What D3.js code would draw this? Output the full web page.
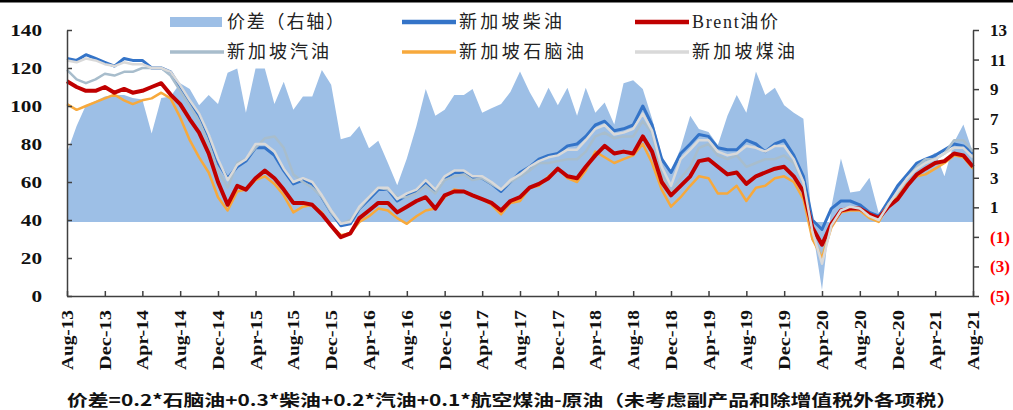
<!DOCTYPE html>
<html>
<head>
<meta charset="utf-8">
<script src="https://cdn.jsdelivr.net/npm/d3@7"></script>
<style>
  body { margin: 0; background: #fff; }
  svg { display: block; }
</style>
</head>
<body>
<div id="chart"></div>
<script>
// monthly readings, Aug-13 .. Aug-21
let startMonth = new Date(2013, 7, 1);
let months = d3.range(97).map(i => d3.timeMonth.offset(startMonth, i));
let tickMonths = d3.range(0, 97, 4).map(i => months[i]);

let spread = [
  4.7, 6.5, 7.9, 8.2, 8.5, 8.6, 8.6, 8.4, 8.3, 6.0, 8.4, 8.5,
  9.4, 9.0, 7.9, 8.6, 8.0, 10.1, 10.4, 7.4, 10.4, 10.4, 8.0, 9.5,
  7.6, 8.5, 8.5, 10.3, 9.3, 5.6, 5.8, 6.5, 5.0, 5.5, 4.0, 2.5,
  4.3, 6.5, 9.0, 7.2, 7.6, 8.6, 8.6, 9.0, 7.4, 7.7, 8.0, 8.8,
  10.2, 8.8, 7.7, 9.1, 7.9, 9.1, 7.2, 9.1, 7.4, 8.1, 6.6, 9.4,
  9.6, 9.0, 7.0, 4.5, 3.4, 5.0, 7.2, 6.3, 6.1, 5.2, 7.2, 8.6,
  7.4, 10.2, 8.6, 9.1, 7.9, 7.4, 7.0, -0.4, -4.6, 1.0, 4.3, 2.0,
  2.1, 3.0, 0.6, 1.4, 2.6, 3.3, 3.9, 4.2, 4.7, 3.1, 5.4, 6.6, 4.7
];
let diesel = [
  125, 124, 127, 125, 123, 121, 125, 124, 124, 120, 120, 118,
  110, 102, 95, 84, 70, 62, 68, 71, 78, 78, 74, 66,
  59, 61, 59, 52, 44, 37, 38, 46, 51, 56, 56, 50,
  53, 55, 60, 55, 62, 65, 65, 62, 62, 59, 55, 60,
  65, 68, 72, 74, 75, 79, 80, 84, 90, 92, 87, 88,
  90, 100, 90, 72, 65, 75, 80, 85, 84, 78, 77, 77,
  82, 80, 76, 80, 82, 74, 63, 40, 35, 46, 50, 50,
  48, 44, 42, 50, 58, 64, 70, 72, 74, 77, 80, 79, 75
];
let brent = [
  113, 110, 108, 108, 110, 107, 109, 107, 108, 110, 112, 106,
  101, 93, 86, 75, 60, 48, 58, 56, 62, 66, 62, 56,
  49, 49, 48, 43, 37, 31, 33, 41, 45, 49, 49, 44,
  47, 50, 52, 46, 53, 55, 55, 53, 51, 49, 45, 50,
  52, 57, 59, 62, 67, 63, 62, 68, 74, 79, 75, 76,
  75, 84, 76, 60, 53, 58, 63, 71, 72, 68, 64, 65,
  59, 63, 65, 67, 68, 63, 55, 36, 27, 38, 45, 46,
  46, 43, 41, 47, 51, 58, 64, 67, 70, 71, 75, 74, 68
];
let gasoline = [
  119, 114, 112, 114, 117, 116, 118, 118, 120, 120, 120, 116,
  108, 100, 92, 80, 66, 57, 70, 72, 78, 83, 84, 78,
  64, 60, 57, 52, 44, 38, 40, 46, 52, 57, 56, 52,
  52, 54, 58, 54, 61, 63, 64, 61, 62, 59, 56, 60,
  63, 66, 70, 70, 71, 72, 72, 76, 84, 86, 83, 84,
  84, 92, 86, 64, 55, 62, 68, 78, 80, 74, 72, 74,
  68, 70, 72, 72, 74, 70, 60, 30, 22, 38, 44, 46,
  46, 43, 41, 48, 54, 62, 68, 72, 72, 75, 82, 82, 76
];
let naphtha = [
  101, 98, 100, 102, 104, 106, 103, 101, 103, 104, 107, 104,
  94, 82, 73, 65, 52, 45, 55, 56, 61, 63, 59, 53,
  44, 47, 48, 44, 37, 32, 33, 39, 42, 46, 45, 41,
  38, 42, 45, 46, 52, 56, 55, 53, 51, 48, 43, 49,
  50, 57, 58, 63, 67, 62, 60, 66, 76, 73, 70, 72,
  74, 80, 70, 56, 47, 52, 58, 63, 62, 54, 54, 58,
  50, 57, 58, 62, 63, 60, 51, 30, 20, 36, 44, 45,
  45, 41, 39, 48, 52, 59, 63, 64, 67, 70, 74, 73, 67
];
let jet = [
  124, 123, 125, 124, 122, 121, 123, 122, 122, 120, 120, 118,
  111, 103, 96, 85, 72, 61, 69, 72, 80, 80, 76, 67,
  60, 62, 60, 53, 45, 38, 39, 47, 52, 57, 57, 51,
  54, 56, 61, 56, 63, 66, 66, 63, 63, 60, 56, 61,
  64, 68, 71, 73, 74, 77, 77, 82, 88, 90, 85, 86,
  88, 96, 87, 68, 58, 72, 77, 82, 82, 76, 74, 75,
  79, 78, 76, 79, 79, 72, 60, 34, 17, 37, 45, 47,
  46, 42, 40, 48, 55, 62, 67, 70, 72, 75, 78, 78, 73
];

let leftTicks = d3.range(0, 141, 20);
let rightTicks = d3.range(-5, 14, 2);

let series = [
  { name: "新加坡柴油", values: diesel, color: "#3474c8", width: 3 },
  { name: "新加坡汽油", values: gasoline, color: "#a8bdcc", width: 2.5 },
  { name: "新加坡石脑油", values: naphtha, color: "#f7a93c", width: 2.5 },
  { name: "Brent油价", values: brent, color: "#c00000", width: 4 },
  { name: "新加坡煤油", values: jet, color: "#d9d9d9", width: 2.5 }
];

let width = 1013, height = 410;
let margin = { top: 30, right: 40, bottom: 114, left: 67 };

let svg = d3.select("#chart")
  .append("svg")
    .attr("width", width)
    .attr("height", height);

svg.append("rect")
  .attr("x", 0).attr("y", 0)
  .attr("width", width).attr("height", 2.5)
  .attr("fill", "#000");

let x = d3.scaleTime()
  .domain([months[0], months[96]])
  .range([margin.left, width - margin.right]);
let yL = d3.scaleLinear()
  .domain([0, 140])
  .range([height - margin.bottom, margin.top]);
let yR = d3.scaleLinear()
  .domain([-5, 13])
  .range([height - margin.bottom, margin.top]);

// spread area on right axis
let area = d3.area()
  .x((d, i) => x(months[i]))
  .y0(yR(0))
  .y1(d => yR(d));
svg.append("path")
  .datum(spread)
  .attr("d", area)
  .attr("fill", "#9dbfe6");

let line = d3.line()
  .x((d, i) => x(months[i]))
  .y(d => yL(d));

svg.selectAll(".series")
  .data(series)
  .enter()
  .append("path")
    .attr("class", "series")
    .attr("d", d => line(d.values))
    .attr("fill", "none")
    .attr("stroke", d => d.color)
    .attr("stroke-width", d => d.width)
    .attr("stroke-linejoin", "round");

let axisColor = "#404040";
let numFont = "'Liberation Serif', 'Times New Roman', serif";

// left axis
let gL = svg.append("g")
  .attr("transform", `translate(${margin.left},0)`)
  .call(d3.axisLeft(yL).tickValues(leftTicks).tickSize(-5).tickSizeOuter(0).tickPadding(25));
gL.selectAll("text")
  .style("font-family", numFont)
  .style("font-weight", "bold")
  .style("font-size", "17px")
  .attr("fill", "#111")
  .attr("textLength", d => String(d).length * 10.6)
  .attr("lengthAdjust", "spacingAndGlyphs");

// right axis
let gR = svg.append("g")
  .attr("transform", `translate(${width - margin.right},0)`)
  .call(d3.axisRight(yR).tickValues(rightTicks).tickSize(6).tickSizeOuter(0).tickPadding(11)
    .tickFormat(d => d < 0 ? "(" + (-d) + ")" : d));
gR.selectAll("text")
  .style("font-family", numFont)
  .style("font-weight", "bold")
  .style("font-size", "17px")
  .attr("fill", d => d < 0 ? "#ff0000" : "#111");

// bottom axis
let gB = svg.append("g")
  .attr("transform", `translate(0,${height - margin.bottom})`)
  .call(d3.axisBottom(x).tickValues(tickMonths).tickSize(-5).tickSizeOuter(0)
    .tickFormat(d3.timeFormat("%b-%y")));
gB.selectAll("text")
  .attr("transform", "rotate(-90)")
  .attr("text-anchor", "end")
  .attr("x", -14)
  .attr("y", 0)
  .attr("dy", "0.35em")
  .style("font-family", numFont)
  .style("font-weight", "bold")
  .style("font-size", "16px")
  .attr("fill", "#111")
  .attr("textLength", 60)
  .attr("lengthAdjust", "spacingAndGlyphs");

[gL, gR, gB].forEach(g => {
  g.selectAll("path, line")
    .attr("stroke", axisColor)
    .attr("stroke-width", 1.5);
});

// legend
let legendFont = "'Liberation Serif', 'Noto Sans CJK SC', serif";
let legendItems = [
  { label: "价差（右轴）", type: "area", color: "#9dbfe6", x: 170, y: 22, len: 117 },
  { label: "新加坡柴油", type: "line", color: "#3474c8", w: 4.5, x: 402, y: 22, len: 103 },
  { label: "Brent油价", type: "line", color: "#c00000", w: 4.5, x: 635, y: 22, len: 86 },
  { label: "新加坡汽油", type: "line", color: "#a8bdcc", w: 3.5, x: 170, y: 52, len: 102 },
  { label: "新加坡石脑油", type: "line", color: "#f7a93c", w: 3.5, x: 402, y: 52, len: 125 },
  { label: "新加坡煤油", type: "line", color: "#d9d9d9", w: 3.5, x: 635, y: 52, len: 103 }
];
let lg = svg.append("g");
legendItems.forEach(d => {
  if (d.type === "area") {
    lg.append("rect")
      .attr("x", d.x).attr("y", d.y - 5)
      .attr("width", 52).attr("height", 10)
      .attr("fill", d.color);
  } else {
    lg.append("line")
      .attr("x1", d.x).attr("x2", d.x + 54)
      .attr("y1", d.y).attr("y2", d.y)
      .attr("stroke", d.color)
      .attr("stroke-width", d.w);
  }
  lg.append("text")
    .attr("x", d.x + 57)
    .attr("y", d.y)
    .attr("dy", "0.35em")
    .style("font-family", legendFont)
    .style("font-size", "18px")
    .attr("fill", "#222")
    .attr("textLength", d.len)
    .attr("lengthAdjust", "spacing")
    .text(d.label);
});

// footnote
svg.append("text")
  .attr("x", 67)
  .attr("y", 400)
  .attr("dy", "0.35em")
  .style("font-family", "'Noto Sans CJK SC', sans-serif")
  .style("font-weight", "bold")
  .style("font-size", "16px")
  .attr("fill", "#111")
  .attr("textLength", 890)
  .attr("lengthAdjust", "spacingAndGlyphs")
  .text("价差=0.2*石脑油+0.3*柴油+0.2*汽油+0.1*航空煤油-原油（未考虑副产品和除增值税外各项税）");
</script>
</body>
</html>
